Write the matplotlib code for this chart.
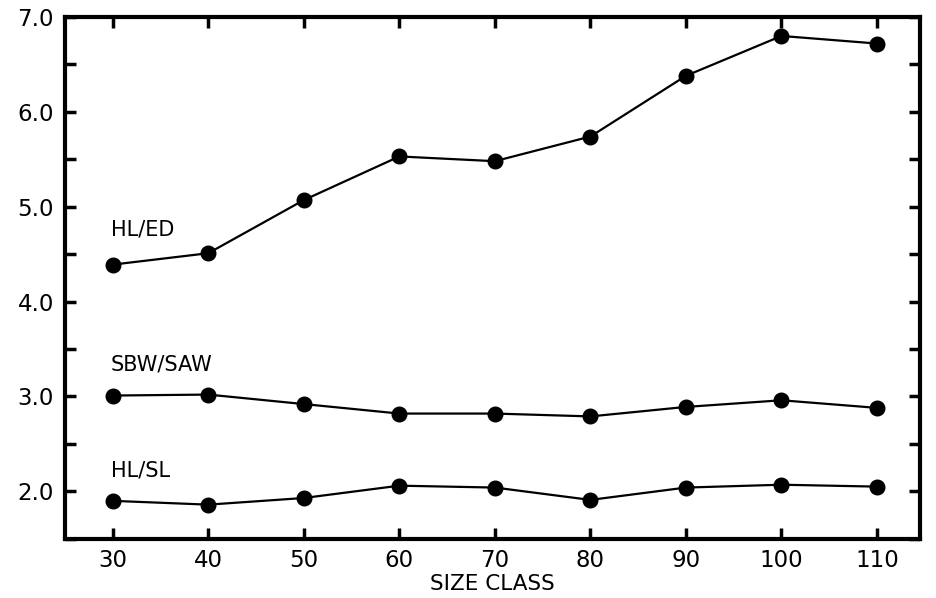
import matplotlib
matplotlib.use("Agg")
import matplotlib.pyplot as plt
from matplotlib.ticker import MultipleLocator

size_class = [30, 40, 50, 60, 70, 80, 90, 100, 110]
hl_ed = [4.39, 4.51, 5.07, 5.53, 5.48, 5.74, 6.38, 6.80, 6.72]
sbw_saw = [3.01, 3.02, 2.92, 2.82, 2.82, 2.79, 2.89, 2.96, 2.88]
hl_sl = [1.90, 1.86, 1.93, 2.06, 2.04, 1.91, 2.04, 2.07, 2.05]

series = [("HL/ED", hl_ed, 4.76), ("SBW/SAW", sbw_saw, 3.34), ("HL/SL", hl_sl, 2.22)]

y_ticks = [2.0, 3.0, 4.0, 5.0, 6.0, 7.0]
y_tick_labels = ["2.0", "3.0", "4.0", "5.0", "6.0", "7.0"]
x_tick_labels = ["30", "40", "50", "60", "70", "80", "90", "100", "110"]

plt.rcParams["font.family"] = ["DejaVu Sans"]

fig = plt.figure(figsize=(9.36, 5.98), dpi=100)
ax = fig.add_axes([0.0694, 0.0990, 0.9135, 0.8726])

for name, vals, ylab in series:
    ax.plot(size_class, vals, color="black", lw=1.6, marker="o",
            markersize=10.5, markerfacecolor="black", markeredgecolor="black")
    ax.text(29.8, ylab, name, fontsize=15, ha="left", va="center", color="black")

ax.set_xlim(25, 114.5)
ax.set_ylim(1.5, 7.0)

ax.set_xticks(size_class)
ax.set_xticklabels(x_tick_labels)
ax.set_yticks(y_ticks)
ax.set_yticklabels(y_tick_labels)
ax.yaxis.set_minor_locator(MultipleLocator(0.5))

ax.tick_params(axis="both", which="both", direction="in", length=8, width=2.5,
               top=True, right=True, labelsize=16.5, color="black")
ax.tick_params(axis="x", pad=7)
ax.tick_params(axis="y", pad=8)

for sp in ax.spines.values():
    sp.set_linewidth(3)
    sp.set_color("black")

ax.set_xlabel("SIZE CLASS", fontsize=15.5, labelpad=1.5)

fig.savefig("out.png", dpi=100, facecolor="white")
